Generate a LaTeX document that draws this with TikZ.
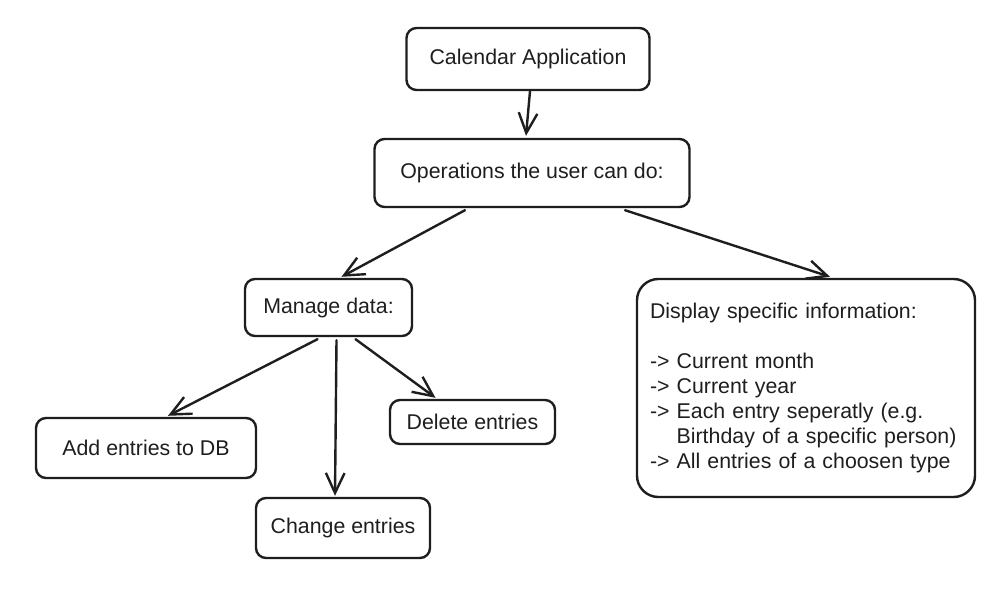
\documentclass[tikz,border=0pt]{standalone}
\usepackage{fontspec}
\setmainfont{Liberation Sans}
\usetikzlibrary{arrows.meta,calc}
\definecolor{ink}{HTML}{1E1E1E}
\begin{document}
\begin{tikzpicture}[x=0.75pt,y=-0.75pt,
  box/.style={draw=ink, line width=1.8pt, rounded corners=7.5pt, fill=white,
    align=center, inner sep=0pt, font=\fontsize{16pt}{18.75pt}\selectfont, text=ink},
  arr/.style={draw=ink, line width=1.8pt, line cap=round,
    -{Straight Barb[length=15pt,width=14pt,line width=1.8pt]}}]
\useasboundingbox[fill=white] (0,0) rectangle (1000,606);

\node[box, minimum width=182.25pt, minimum height=46.5pt] (cal) at (528,59) {Calendar Application};
\node[box, minimum width=236.25pt, minimum height=51pt] (ops) at (532,173) {Operations the user can do:};
\node[box, minimum width=125.25pt, minimum height=42.75pt] (man) at (328.5,307.5) {Manage data:};
\node[box, rounded corners=16pt, minimum width=253.5pt, minimum height=163.5pt,
  text width=234pt, align=left] (disp) at (806,388)
  {Display specific information:\\[18.75pt]
   -> Current month\\
   -> Current year\\
   -> Each entry seperatly (e.g.\\
   \hphantom{->~}Birthday of a specific person)\\
   -> All entries of a choosen type};
\node[box, minimum width=165pt, minimum height=45pt] (add) at (146,448) {Add entries to DB};
\node[box, minimum width=123.75pt, minimum height=33pt] (del) at (472.5,422) {Delete entries};
\node[box, minimum width=130.5pt, minimum height=45pt] (chg) at (343,528) {Change entries};

\draw[arr] ($(cal.south)+(2,0)$) -- ($(ops.north)+(-6,-2)$);
\draw[arr] ($(ops.south)+(-67,2)$) -- ($(man.north)+(13,-1)$);
\draw[arr] ($(ops.south)+(93,2)$) -- ($(disp.north)+(24,-1)$);
\draw[arr] ($(man.south)+(-11,2)$) -- ($(add.north)+(22,-1)$);
\draw[arr] ($(man.south)+(8,3)$) -- ($(chg.north)+(-8,-1)$);
\draw[arr] ($(man.south)+(27,2)$) -- ($(del.north)+(-37,-1)$);
\end{tikzpicture}
\end{document}
